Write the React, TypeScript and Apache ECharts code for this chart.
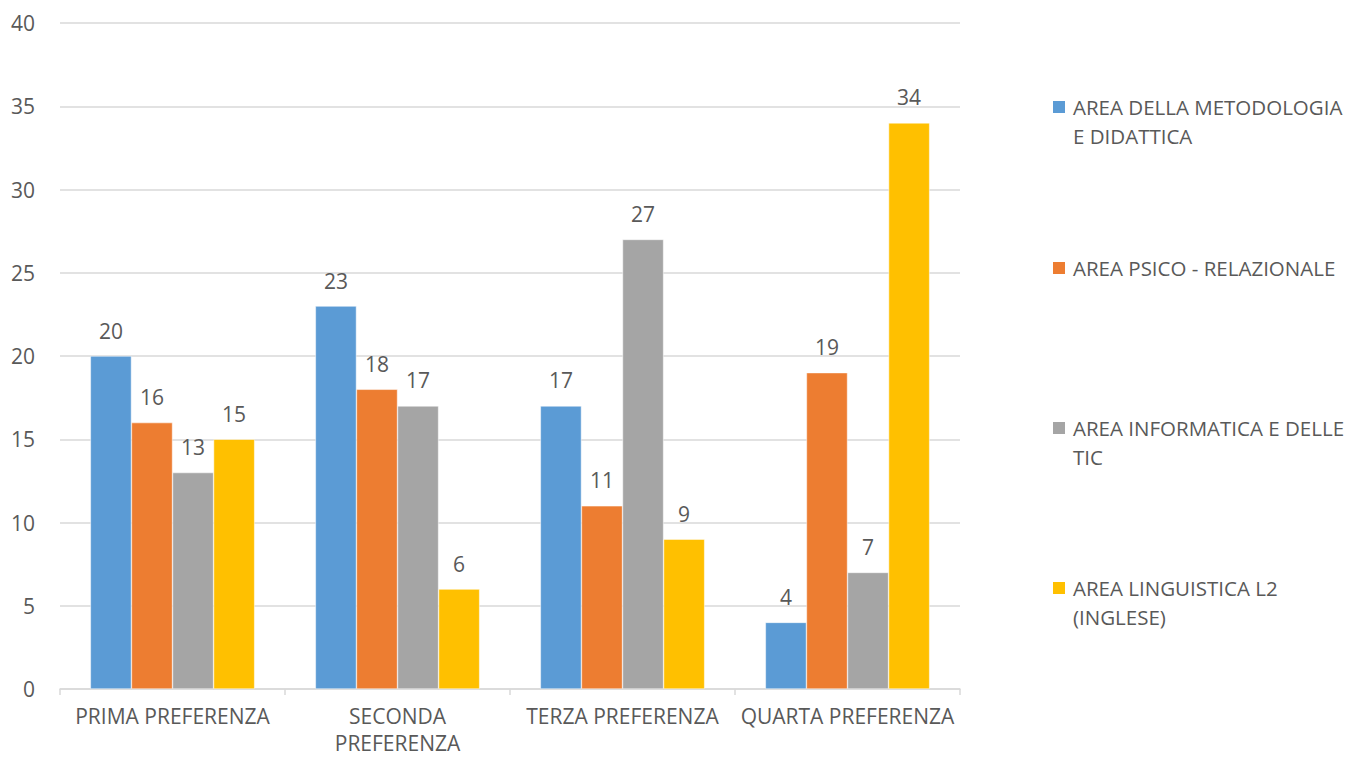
import React, { useEffect, useRef } from "react";
import * as echarts from "echarts";

const categories = ["PRIMA PREFERENZA", "SECONDA\nPREFERENZA", "TERZA PREFERENZA", "QUARTA PREFERENZA"];
const seriesNames = [
  "AREA DELLA METODOLOGIA\nE DIDATTICA",
  "AREA PSICO - RELAZIONALE",
  "AREA INFORMATICA E DELLE\nTIC",
  "AREA LINGUISTICA L2\n(INGLESE)",
];
const metodologia = [20, 23, 17, 4];
const psico = [16, 18, 11, 19];
const informatica = [13, 17, 27, 7];
const linguistica = [15, 6, 9, 34];
const colors = ["#5B9BD5", "#ED7D31", "#A5A5A5", "#FFC000"];
const yTicks = { min: 0, max: 40, interval: 5 };

const FONT = "'Open Sans', sans-serif";
const TXT = "#595959";
const FS = 21;
const LEG_FS = 20.5;

export default function App() {
  const ref = useRef<HTMLDivElement>(null);
  useEffect(() => {
    if (!ref.current) return;
    const chart = echarts.init(ref.current, null, { renderer: "svg" });
    const values = [metodologia, psico, informatica, linguistica];
    const legendTops = [107, 268, 428, 588];
    const graphic: any[] = [];
    seriesNames.forEach((n, i) => {
      graphic.push({
        type: "rect",
        left: 1053,
        top: legendTops[i] - 6,
        shape: { width: 12, height: 12 },
        style: { fill: colors[i] },
      });
      graphic.push({
        type: "text",
        left: 1073,
        top: legendTops[i] - 14.5,
        style: { text: n, fill: TXT, font: `${LEG_FS}px ${FONT}`, lineHeight: 29 },
      });
    });
    chart.setOption({
      animation: false,
      textStyle: { fontFamily: FONT },
      grid: { left: 60, right: 395, top: 23, bottom: 68, containLabel: false, outerBoundsMode: "none" },
      xAxis: {
        type: "category",
        data: categories,
        axisLine: { lineStyle: { color: "#D9D9D9", width: 1.5 } },
        axisTick: { show: true, length: 6, lineStyle: { color: "#D9D9D9", width: 1.5 } },
        axisLabel: { color: TXT, fontSize: FS, fontFamily: FONT, margin: 13, lineHeight: 27, interval: 0 },
      },
      yAxis: {
        type: "value",
        min: yTicks.min,
        max: yTicks.max,
        interval: yTicks.interval,
        axisLine: { show: false },
        axisTick: { show: false },
        splitLine: { lineStyle: { color: "#D9D9D9", width: 1.5 } },
        axisLabel: { color: TXT, fontSize: FS, fontFamily: FONT, margin: 25 },
      },
      series: values.map((v, i) => ({
        type: "bar",
        name: seriesNames[i],
        data: v,
        barGap: "0%",
        barCategoryGap: "27%",
        itemStyle: { color: colors[i], borderColor: "#fff", borderWidth: 0.5 },
        label: { show: true, position: "top", distance: 15, color: TXT, fontSize: FS, fontFamily: FONT },
      })),
      graphic,
    });
    return () => chart.dispose();
  }, []);
  return (
    <div
      ref={ref}
      style={{ position: "absolute", left: 0, top: 0, width: 1355, height: 757 }}
    />
  );
}
